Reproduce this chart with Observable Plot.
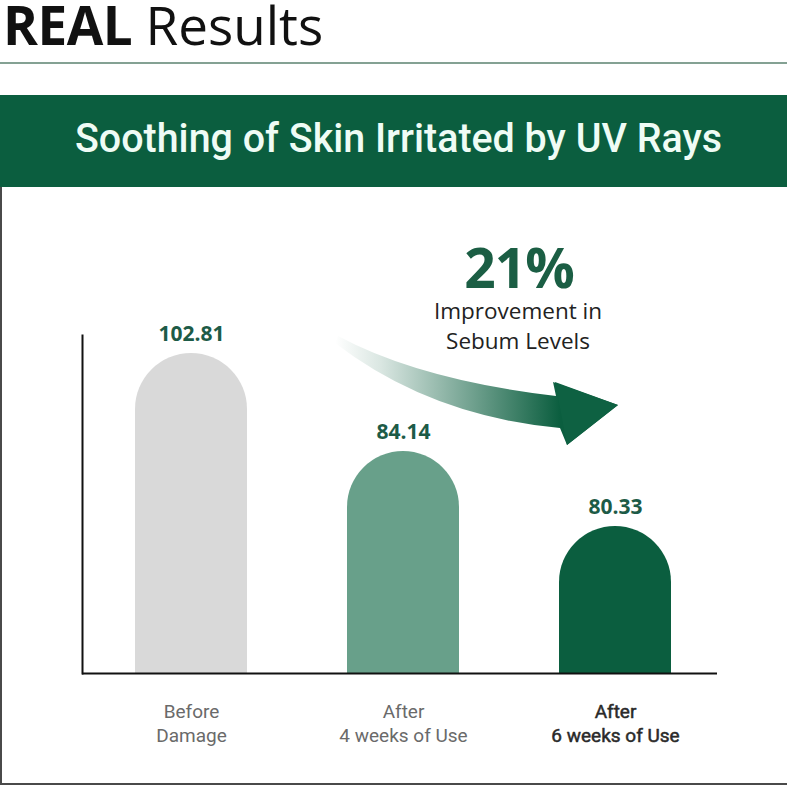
<!DOCTYPE html>
<html><head><meta charset="utf-8">
<script src="https://cdn.jsdelivr.net/npm/d3@7"></script>
<script src="https://cdn.jsdelivr.net/npm/@observablehq/plot@0.6"></script>
<style>
body{margin:0;background:#fff;}
#page{position:relative;width:787px;height:787px;overflow:hidden;background:#fff;}
#head{position:absolute;left:2px;top:0;}
#rule{position:absolute;left:0;top:62px;width:787px;height:2px;background:#84a193}
#box{position:absolute;left:0;top:95px;width:787px;height:690px;border-left:2px solid #4a4a4a;border-bottom:2px solid #4a4a4a;box-sizing:border-box}
#banner{position:absolute;left:0;top:95px;width:787px;height:92px;background:#0b5e3f}
#chart{position:absolute;left:0;top:190px}
#overlay{position:absolute;left:0;top:0;pointer-events:none}
</style></head>
<body>
<div id="page">
  <svg id="head" width="400" height="60"></svg>
  <div id="rule"></div>
  <div id="box"></div>
  <div id="banner"></div>
  <div id="chart"></div>
  <svg id="overlay" width="787" height="787"></svg>
</div>
<script>
// ---- data ----
const pageTitleBold = "REAL";
const pageTitleRest = "Results";
const chartTitle = "Soothing of Skin Irritated by UV Rays";
const categories = ["Before Damage", "After 4 weeks of Use", "After 6 weeks of Use"];
const tickLines = [["Before", "Damage"], ["After", "4 weeks of Use"], ["After", "6 weeks of Use"]];
const values = [102.81, 84.14, 80.33];
const barColors = ["#d9d9d9", "#68a08a", "#0b5e3f"];
const calloutValue = "21%";
const calloutLines = ["Improvement in", "Sebum Levels"];

const data = categories.map((c, i) => ({cat: c, value: values[i], lines: tickLines[i]}));
const sorted = [...values].sort((a, b) => a - b);

// page title
const head = d3.select("#head").append("text").attr("x", 1).attr("y", 45)
  .attr("font-family", "Open Sans").attr("font-size", 53).attr("fill", "#111");
head.append("tspan").attr("font-weight", 700).attr("letter-spacing", -0.5).text(pageTitleBold + " ");
head.append("tspan").attr("font-weight", 400).text(pageTitleRest);

// banner title
const banner = d3.select("#banner").append("svg").attr("width", 787).attr("height", 92);
banner.append("text").attr("x", 398.5).attr("y", 57).attr("text-anchor", "middle")
  .attr("textLength", 647).attr("lengthAdjust", "spacingAndGlyphs")
  .attr("font-family", "Roboto").attr("font-weight", 500).attr("font-size", 41).attr("fill", "#effcf5").text(chartTitle);

const chart = Plot.plot({
  width: 787,
  height: 597,
  marginLeft: 82,
  marginRight: 70,
  marginTop: 145,
  marginBottom: 114,
  x: {type: "band", domain: categories, paddingInner: 0.474, paddingOuter: 0.2277, align: 0.536, axis: null},
  y: {type: "linear", domain: [0, ...sorted], range: [483, 336, 261, 163], axis: null},
  color: {domain: categories, range: barColors},
  marks: [
    Plot.barY(data, {x: "cat", y: "value", fill: "cat", ry1: 56}),
    Plot.frame({anchor: "left", stroke: "#111", strokeWidth: 2}),
    Plot.ruleY([0], {stroke: "#111", strokeWidth: 2}),
    Plot.text(data, {x: "cat", y: "value", text: d => d.value.toFixed(2), dy: -19,
      fontSize: 21, fontWeight: 700, fontFamily: "Open Sans", fill: "#1d5b47"}),
    Plot.text(data.slice(0, 2), {x: "cat", frameAnchor: "bottom", lineAnchor: "top", dy: 28,
      text: d => d.lines.join("\n"), lineHeight: 1.24, fontSize: 19, fontFamily: "Roboto", fill: "#6a6a6a"}),
    Plot.text(data.slice(2), {x: "cat", frameAnchor: "bottom", lineAnchor: "top", dy: 28,
      text: d => d.lines.join("\n"), lineHeight: 1.24, fontSize: 19, fontFamily: "Roboto", fill: "#2a2a2a",
      stroke: "#2a2a2a", strokeWidth: 0.5})
  ]
});
document.getElementById("chart").appendChild(chart);

// decorative annotation (arrow + callout)
const ov = d3.select("#overlay");
const defs = ov.append("defs");
const g = defs.append("linearGradient").attr("id", "ag").attr("gradientUnits", "userSpaceOnUse")
  .attr("x1", 335).attr("y1", 0).attr("x2", 560).attr("y2", 0);
g.append("stop").attr("offset", 0).attr("stop-color", "#0b5e3f").attr("stop-opacity", 0);
g.append("stop").attr("offset", 0.2).attr("stop-color", "#0b5e3f").attr("stop-opacity", 0.15);
g.append("stop").attr("offset", 1).attr("stop-color", "#0b5e3f").attr("stop-opacity", 1);
ov.append("path").attr("d", "M338,336 Q420,380 556,396 L553,382 L618,405 L567,445 L560,428 Q430,416 335,343 Z")
  .attr("fill", "url(#ag)");
ov.append("path").attr("d", "M555,382 L618,405 L567,445 Z").attr("fill", "#0e6142");
ov.append("text").attr("x", 519).attr("y", 288).attr("text-anchor", "middle")
  .attr("font-family", "Open Sans").attr("font-weight", 700).attr("font-size", 55)
  .attr("letter-spacing", -1).attr("fill", "#1b5e44").text(calloutValue);
calloutLines.forEach((t, i) => ov.append("text").attr("x", 518).attr("y", 319 + i * 30)
  .attr("text-anchor", "middle").attr("font-family", "Open Sans").attr("font-size", 22.5)
  .attr("fill", "#222").text(t));
</script>
</body></html>
